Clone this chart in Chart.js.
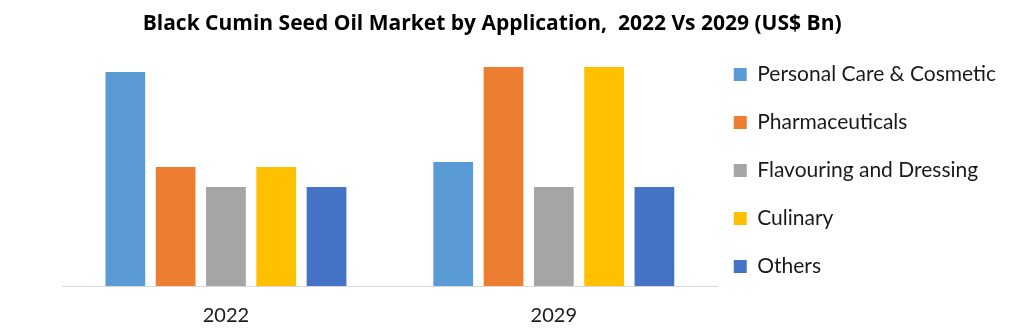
<!DOCTYPE html>
<html>
<head>
<meta charset="utf-8">
<script src="https://cdn.jsdelivr.net/npm/chart.js@4"></script>
<style>
  html, body { margin: 0; padding: 0; background: #fff; }
  #wrap { width: 1024px; height: 329px; }
</style>
</head>
<body>
<div id="wrap"><canvas id="myBarChart"></canvas></div>
<script>
const years = ['2022', '2029'];
const applications = ['Personal Care & Cosmetic', 'Pharmaceuticals', 'Flavouring and Dressing', 'Culinary', 'Others'];
const personalCare = [2.14, 1.24];
const pharmaceuticals = [1.19, 2.19];
const flavouring = [0.99, 0.99];
const culinary = [1.19, 2.19];
const others = [0.99, 0.99];
const colors = ['#5B9BD5', '#ED7D31', '#A5A5A5', '#FFC000', '#4472C4'];

const seriesValues = [personalCare, pharmaceuticals, flavouring, culinary, others];

let ctx = document.getElementById('myBarChart').getContext('2d');
let myBarChart = new Chart(ctx, {
    type: 'bar',
    data: {
        labels: years,
        datasets: applications.map((name, i) => ({
            label: name,
            data: seriesValues[i],
            backgroundColor: colors[i],
            borderWidth: 0,
            categoryPercentage: 0.767,
            barPercentage: 0.79
        }))
    },
    options: {
        responsive: true,
        maintainAspectRatio: false,
        animation: false,
        layout: { padding: { left: 0, right: 18, top: 0, bottom: 1 } },
        plugins: {
            title: {
                display: true,
                // trailing spaces nudge the centred title a little to the left
                text: 'Black Cumin Seed Oil Market by Application,  2022 Vs 2029 (US$ Bn)    ',
                color: '#000',
                font: { family: 'Open Sans', size: 21, weight: 'bold', lineHeight: 1.2 },
                padding: { top: 11.9, bottom: 10.9 }
            },
            legend: {
                position: 'right',
                align: 'start',
                maxWidth: 300,
                title: { display: true, text: '', font: { size: 10, lineHeight: '10px' }, padding: { top: 38, bottom: 0 } },
                labels: {
                    color: '#1a1a1a',
                    font: { family: 'Lato', size: 21, lineHeight: '32px' },
                    boxWidth: 13,
                    boxHeight: 13,
                    padding: 16,
                    generateLabels: chart => chart.data.datasets.map((ds, i) => ({
                        text: [ds.label],
                        fillStyle: ds.backgroundColor,
                        strokeStyle: ds.backgroundColor,
                        fontColor: '#1a1a1a',
                        lineWidth: 0,
                        hidden: false,
                        datasetIndex: i
                    }))
                }
            },
            tooltip: { enabled: false }
        },
        scales: {
            x: {
                grid: { display: false, drawTicks: false },
                border: { display: true, color: '#d9d9d9', width: 1 },
                ticks: { color: '#1a1a1a', font: { family: 'Lato', size: 20 }, padding: 18 },
                afterFit: scale => { scale.height = 42; }
            },
            y: {
                display: true,
                min: 0,
                max: 2.38,
                grid: { display: false },
                border: { display: false },
                ticks: { display: false },
                afterFit: scale => { scale.width = 62; }
            }
        }
    }
});
</script>
</body>
</html>
